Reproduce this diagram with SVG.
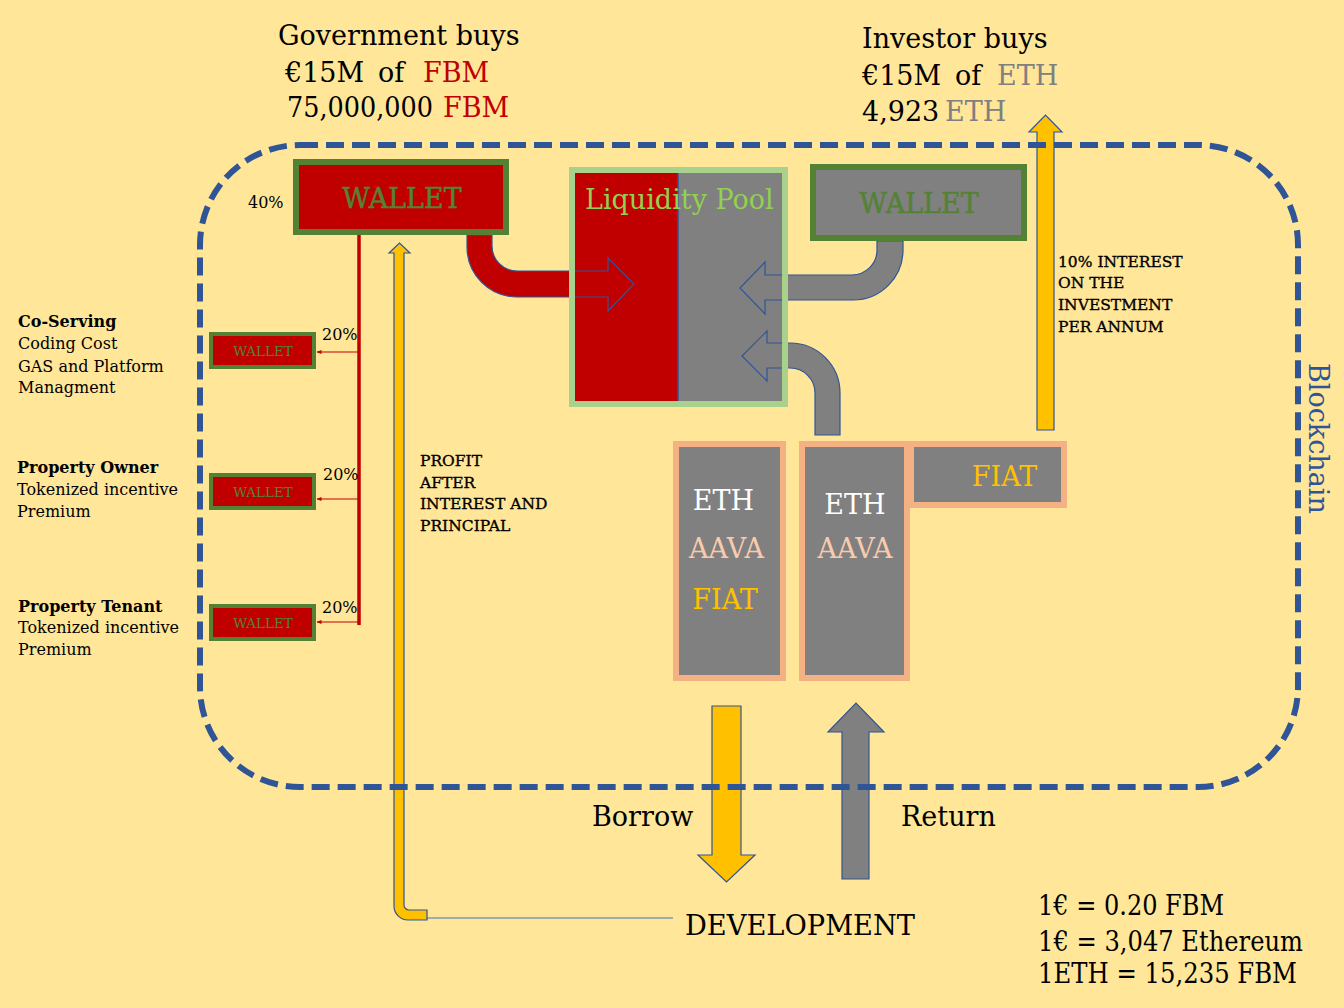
<svg xmlns="http://www.w3.org/2000/svg" width="1344" height="1008" viewBox="0 0 1344 1008">
<style>
text{font-family:"DejaVu Serif","Liberation Serif",serif;fill:#000}
.big{font-size:27px}
.sm{font-size:16px}
.cap{font-size:15.5px;stroke:#000;stroke-width:0.35}
.b{font-weight:bold}
.wl{fill:#548235;font-size:27px;text-anchor:middle;stroke:#548235;stroke-width:0.5}
.wls{fill:#548235;font-size:13.5px;text-anchor:middle}
.mid{text-anchor:middle}
.edge{stroke:#2F5597;stroke-width:1.2}
</style>
<defs>
<marker id="ah" viewBox="0 0 10 10" refX="9" refY="5" markerWidth="5" markerHeight="5" orient="auto"><path d="M0,1 L10,5 L0,9 Z" fill="#C00000"/></marker>
</defs>
<rect width="1344" height="1008" fill="#FFE699"/>

<g id="titles">
<text class="big" x="278" y="45">Government buys</text>
<text class="big" y="82"><tspan x="285">€15M</tspan><tspan x="378">of</tspan><tspan x="423" fill="#C00000">FBM</tspan></text>
<text class="big" y="117"><tspan x="287" textLength="146" lengthAdjust="spacingAndGlyphs">75,000,000</tspan><tspan x="443" fill="#C00000">FBM</tspan></text>
<text class="big" x="862" y="48">Investor buys</text>
<text class="big" y="85"><tspan x="862">€15M</tspan><tspan x="955">of</tspan><tspan x="997" fill="#808080">ETH</tspan></text>
<text class="big" y="121"><tspan x="862">4,923</tspan><tspan x="945" fill="#808080">ETH</tspan></text>
</g>

<g id="connectors">
<line x1="359" y1="235" x2="359" y2="625" stroke="#C00000" stroke-width="3.5"/>
<line x1="359" y1="352" x2="317" y2="352" stroke="#C00000" stroke-width="1" marker-end="url(#ah)"/>
<line x1="359" y1="499" x2="317" y2="499" stroke="#C00000" stroke-width="1" marker-end="url(#ah)"/>
<line x1="359" y1="622" x2="317" y2="622" stroke="#C00000" stroke-width="1" marker-end="url(#ah)"/>
<line x1="427" y1="918" x2="673" y2="918" stroke="#4472C4" stroke-width="1.2"/>
</g>

<g id="pool-fill">
<rect x="575" y="173" width="103" height="228" fill="#C00000"/>
<rect x="678" y="173" width="104" height="228" fill="#808080"/>
<line x1="678" y1="173" x2="678" y2="401" stroke="#2F5597" stroke-width="1.5"/>
</g>

<g id="arrows">
<path class="edge" fill="#C00000" d="M467,235 L467,247 A50,50 0 0 0 517,297 L608,297 L608,311 L634,284 L608,258 L608,271 L517,271 A25,25 0 0 1 492,246 L492,235 Z"/>
<path class="edge" fill="#808080" d="M903,241 L903,250 A50,50 0 0 1 853,300 L765,300 L765,314 L740,288 L765,262 L765,275 L852,275 A25,25 0 0 0 877,250 L877,241 Z"/>
<path class="edge" fill="#808080" d="M840,435 L840,393 A50,50 0 0 0 790,343 L767,343 L767,331 L742,356 L767,381 L767,368 L790,368 A25,25 0 0 1 815,393 L815,435 Z"/>
<path class="edge" fill="#FFC000" d="M1037,430 L1037,132 L1029,132 L1045.5,115 L1062,132 L1054,132 L1054,430 Z"/>
<path class="edge" fill="#FFC000" d="M394,253 L389,253 L399.5,243 L410,253 L404,253 L404,905 A5,5 0 0 0 409,910 L427,910 L427,920 L408,920 A14,14 0 0 1 394,906 Z"/>
<path class="edge" fill="#FFC000" d="M712,706 L741,706 L741,855 L755,855 L726.5,882 L698,855 L712,855 Z"/>
<path class="edge" fill="#808080" d="M842,879 L842,732 L828,732 L856,703 L884,732 L869,732 L869,879 Z"/>
</g>

<g id="liquidity-pool">
<rect x="572" y="170" width="213" height="234" fill="none" stroke="#A9D18E" stroke-width="6"/>
<text x="585" y="209" font-size="27" style="fill:#92D050">Liquidity Pool</text>
</g>

<g id="gov-wallet">
<rect x="296" y="162" width="210" height="70" fill="#C00000" stroke="#548235" stroke-width="6"/>
<text class="wl" x="402" y="208">WALLET</text>
<text class="sm" x="248" y="208">40%</text>
</g>

<g id="investor-wallet">
<rect x="813" y="167" width="211" height="71" fill="#808080" stroke="#548235" stroke-width="6"/>
<text class="wl" x="919" y="213">WALLET</text>
</g>

<g id="coserving-wallet">
<rect x="211" y="334" width="103" height="33" fill="#C00000" stroke="#548235" stroke-width="4"/>
<text class="wls" x="263" y="356">WALLET</text>
<text class="sm" x="322" y="340">20%</text>
<text class="sm b" x="18" y="327">Co-Serving</text>
<text class="sm" x="18" y="349">Coding Cost</text>
<text class="sm" x="18" y="372">GAS and Platform</text>
<text class="sm" x="18" y="393">Managment</text>
</g>

<g id="owner-wallet">
<rect x="211" y="475" width="103" height="33" fill="#C00000" stroke="#548235" stroke-width="4"/>
<text class="wls" x="263" y="497">WALLET</text>
<text class="sm" x="323" y="480">20%</text>
<text class="sm b" x="17" y="473">Property Owner</text>
<text class="sm" x="17" y="495">Tokenized incentive</text>
<text class="sm" x="17" y="517">Premium</text>
</g>

<g id="tenant-wallet">
<rect x="211" y="606" width="103" height="33" fill="#C00000" stroke="#548235" stroke-width="4"/>
<text class="wls" x="263" y="628">WALLET</text>
<text class="sm" x="322" y="613">20%</text>
<text class="sm b" x="18" y="612">Property Tenant</text>
<text class="sm" x="18" y="633">Tokenized incentive</text>
<text class="sm" x="18" y="655">Premium</text>
</g>

<g id="asset-block-1">
<rect x="673" y="441" width="113" height="240" fill="#F4B183"/>
<rect x="679" y="447" width="101" height="228" fill="#808080"/>
<text class="big mid" x="723.5" y="510" style="fill:#FFFFFF">ETH</text>
<text class="big mid" x="726.5" y="558" style="fill:#F8CBAD">AAVA</text>
<text class="big mid" x="725" y="609" style="fill:#FFC000">FIAT</text>
</g>

<g id="asset-block-2">
<polygon points="799,441 1067,441 1067,508 910,508 910,681 799,681" fill="#F4B183"/>
<rect x="805" y="447" width="99" height="228" fill="#808080"/>
<rect x="914" y="447" width="147" height="55" fill="#808080"/>
<text class="big mid" x="855" y="514" style="fill:#FFFFFF">ETH</text>
<text class="big mid" x="855" y="558" style="fill:#F8CBAD">AAVA</text>
<text class="big mid" x="1004.5" y="486" style="fill:#FFC000">FIAT</text>
</g>

<g id="blockchain">
<rect x="200" y="145" width="1098" height="642" rx="100" ry="100" fill="none" stroke="#2F5597" stroke-width="6" stroke-dasharray="18 8"/>
<text class="big" transform="translate(1309,363) rotate(90)" style="fill:#2F5597">Blockchain</text>
</g>

<g id="labels">
<text class="cap" x="420" y="466">PROFIT</text>
<text class="cap" x="420" y="488">AFTER</text>
<text class="cap" x="420" y="509">INTEREST AND</text>
<text class="cap" x="420" y="531">PRINCIPAL</text>
<text class="cap" x="1058" y="267">10% INTEREST</text>
<text class="cap" x="1058" y="288">ON THE</text>
<text class="cap" x="1058" y="310">INVESTMENT</text>
<text class="cap" x="1058" y="332">PER ANNUM</text>
<text class="big" x="592" y="826">Borrow</text>
<text class="big" x="901" y="826">Return</text>
</g>

<g id="development">
<text class="big" x="685" y="935" textLength="230" lengthAdjust="spacingAndGlyphs">DEVELOPMENT</text>
</g>

<g id="rates">
<text class="big" x="1038" y="915" textLength="186" lengthAdjust="spacingAndGlyphs">1€ = 0.20 FBM</text>
<text class="big" x="1038" y="951" textLength="265" lengthAdjust="spacingAndGlyphs">1€ = 3,047 Ethereum</text>
<text class="big" x="1038" y="983" textLength="259" lengthAdjust="spacingAndGlyphs">1ETH = 15,235 FBM</text>
</g>
</svg>
